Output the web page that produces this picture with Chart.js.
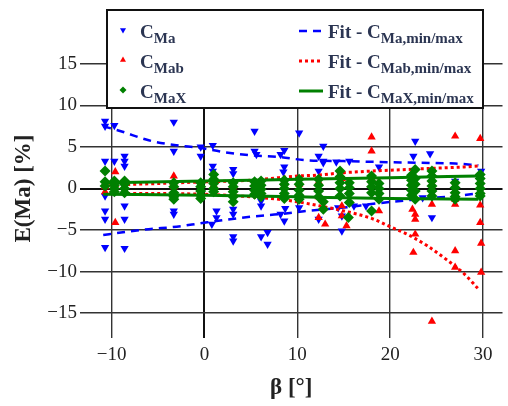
<!DOCTYPE html>
<html>
<head>
<meta charset="utf-8">
<script src="https://cdn.jsdelivr.net/npm/chart.js@4.4.1/dist/chart.umd.min.js"></script>
<style>
  html, body { margin: 0; padding: 0; background: #fff; }
  canvas { display: block; }
</style>
</head>
<body>
<canvas id="chart" width="508" height="406" style="width:508px;height:406px"></canvas>
<script>
// measured points [beta, error]
var cMa = [
  [-10.7, 8.1], [-10.7, 7.5], [-10.7, 3.3], [-10.7, -0.9], [-10.7, -2.7], [-10.7, -3.7], [-10.7, -7.1],
  [-9.7, 7.6], [-9.7, 3.3],
  [-8.6, 3.9], [-8.6, 3.3], [-8.6, 2.7], [-8.6, -2.1], [-8.6, -3.7], [-8.6, -7.2],
  [-3.3, 8.0], [-3.3, 4.5], [-3.3, -2.7], [-3.3, -3.1],
  [-0.4, 5.0], [-0.4, 3.9],
  [0.9, 5.2], [0.9, 2.7], [0.9, 2.1], [1.3, -2.7], [1.3, -3.5], [0.8, -4.3],
  [3.1, 2.3], [3.1, 1.8], [3.1, -2.5], [3.1, -3.1], [3.1, -5.8], [3.1, -6.3],
  [5.4, 6.9], [5.4, 4.5], [5.6, 4.1], [6.1, -1.5], [6.1, -2.1], [6.1, -5.8],
  [6.8, -5.3], [6.8, -6.7],
  [8.6, 4.6], [8.2, 4.1], [8.6, 2.6], [8.5, 2.0], [8.7, -2.4], [8.2, -3.1], [8.6, -3.9],
  [10.2, 6.7], [10.2, -2.3],
  [12.3, 3.9], [12.3, 2.1], [12.3, -3.7], [12.8, 5.1], [12.8, 3.3], [12.8, 3.1],
  [14.2, 3.2], [14.4, -2.3], [14.8, -3.3], [14.8, -5.1],
  [15.6, 3.3], [16.1, -2.1], [17.4, -2.1],
  [18.8, 2.6],
  [22.7, 5.7], [22.5, 3.9], [23.5, -1.1],
  [24.3, 4.2], [24.5, -3.5],
  [27.0, 0.9], [29.8, 2.1]
];
var cMab = [
  [-10.7, 0.2], [-10.7, -0.4],
  [-9.6, 2.0], [-9.6, 0.5], [-9.6, -4.1],
  [-8.6, 0.3], [-8.6, -0.3],
  [-3.3, 1.5], [-3.3, 0.2],
  [-0.4, 0.5], [-0.4, -0.5], [1.0, 0.4],
  [3.1, 0.2], [3.1, -0.6], [5.6, 0.3],
  [8.6, 0.6], [8.6, -0.8], [10.2, 0.5],
  [12.3, 0.8], [12.3, -1.0], [12.3, -3.5], [13.0, -4.3],
  [14.8, 1.2], [14.8, -2.1], [14.8, -3.3], [15.3, -4.5],
  [18.0, 6.2], [18.0, 4.5], [18.0, 1.2], [18.8, 0.8], [18.8, -2.7],
  [22.4, 1.5], [22.4, -2.5], [22.7, -3.1], [22.7, -3.7], [22.7, -5.5], [22.5, -7.7],
  [24.5, 1.0], [24.5, -1.9], [24.5, -16.0],
  [27.0, 6.3], [27.0, 0.4], [27.0, -1.3], [27.0, -1.9], [27.0, -7.5], [27.0, -9.5],
  [29.7, 6.0], [29.7, 0.2], [29.7, -2.0], [29.7, -4.1], [29.8, -6.6], [29.8, -10.1]
];
var cMaX = [
  [-10.7, 2.1], [-10.7, 0.8], [-10.7, 0.3],
  [-9.7, 0.9], [-9.7, 0.4], [-9.7, 0.0], [-9.7, -0.4],
  [-8.6, 0.9], [-8.6, 0.5], [-8.6, 0.0], [-8.6, -0.5],
  [-3.3, 0.7], [-3.3, 0.2], [-3.3, -0.5], [-3.3, -1.0], [-3.3, -1.3],
  [-0.4, 0.7], [-0.4, 0.2], [-0.4, -0.3], [-0.4, -0.8], [-0.4, -1.2],
  [1.0, 1.7], [1.0, 1.1], [1.0, 0.6], [1.0, 0.0], [1.0, -0.4],
  [3.1, 0.7], [3.1, 0.2], [3.1, -0.4], [3.1, -1.0], [3.1, -1.6],
  [5.4, 0.8], [5.4, 0.3], [5.4, -0.2], [5.4, -0.7],
  [6.1, 0.9], [6.1, 0.4], [6.1, -0.1], [6.1, -0.6], [6.1, -1.0],
  [8.6, 1.0], [8.6, 0.5], [8.6, 0.0], [8.6, -0.6], [8.6, -1.2],
  [10.2, 1.1], [10.2, 0.5], [10.2, -0.2], [10.2, -0.8], [10.2, -1.3],
  [12.3, 1.1], [12.3, 0.4], [12.3, -0.3], [12.3, -1.0], [12.8, -1.6], [12.8, -2.5],
  [14.6, 2.1], [14.6, 1.4], [14.6, 0.7], [14.6, 0.0], [14.6, -0.9],
  [15.6, 0.7], [15.6, 0.1], [15.6, -0.6], [15.6, -1.7], [15.5, -3.5],
  [18.0, 1.5], [18.0, 0.8], [18.0, 0.2], [18.0, -0.5], [18.0, -2.7],
  [18.8, 0.6], [18.8, 0.0], [18.8, -0.6], [18.8, -1.3],
  [22.3, 1.6], [22.3, 1.0], [22.3, 0.4], [22.3, -0.2], [22.3, -0.8],
  [22.7, 2.3], [22.7, 1.2], [22.7, 0.5], [22.7, -0.3], [22.7, -1.3],
  [24.5, 2.1], [24.5, 1.5], [24.5, 0.9], [24.5, 0.3], [24.5, -0.3], [24.5, -0.9],
  [27.0, 0.7], [27.0, 0.1], [27.0, -0.5], [27.0, -1.0], [27.0, -1.3],
  [29.7, 1.7], [29.7, 1.2], [29.7, 0.6], [29.7, 0.0], [29.7, -0.6], [29.7, -0.9]
];

// fit envelopes
var blueFitBeta = [-10.9, -9, -6, -3, -0.5, 2, 5, 8, 11, 15, 18.5, 23, 27, 29.5];
var blueUpper = [7.5, 6.9, 5.8, 5.2, 4.9, 4.4, 4.0, 3.8, 3.4, 3.3, 3.2, 3.1, 3.0, 2.8];
var blueLower = [-5.6, -5.3, -4.9, -4.6, -4.2, -3.8, -3.4, -3.1, -2.7, -2.3, -1.8, -1.3, -0.9, -0.6];
var redFitBeta = [-10.9, -5, 0, 5, 8, 10, 12, 15, 18, 20, 22, 24, 26, 28, 29.5];
var redUpper = [0.4, 0.6, 0.8, 1.0, 1.3, 1.5, 1.6, 1.9, 2.1, 2.2, 2.3, 2.4, 2.5, 2.6, 2.7];
var redLower = [-0.6, -0.6, -0.7, -1.0, -1.3, -1.6, -2.0, -2.7, -3.6, -4.6, -5.6, -6.9, -8.5, -10.3, -12.1];
var greenFitBeta = [-10.9, 0, 10, 20, 29.5];
var greenUpper = [0.7, 0.9, 1.1, 1.3, 1.5];
var greenLower = [-0.7, -0.8, -1.0, -1.2, -1.3];

var xTicks = [-10, 0, 10, 20, 30];
var yTicks = [-15, -10, -5, 0, 5, 10, 15];

function pts(list) {
  return list.map(function (p) { return { x: p[0], y: p[1] }; });
}
function curve(xs, ys) {
  return xs.map(function (x, i) { return { x: x, y: ys[i] }; });
}

var BLUE = "#0000ff", RED = "#ff0000", GREEN = "#008000";
var serif = "'Liberation Serif', 'Times New Roman', serif";

function fitLine(data, color, dash, width, order) {
  return {
    data: data, showLine: true, borderColor: color, borderWidth: width,
    borderDash: dash, pointRadius: 0, fill: false,
    cubicInterpolationMode: "monotone", order: order
  };
}

var legendRows = [
  { point: 0, line: 3, sub: "Ma" },
  { point: 1, line: 5, sub: "Mab" },
  { point: 2, line: 7, sub: "MaX" }
];

var boxLegend = {
  id: "boxLegend",
  afterDraw: function (chart) {
    var ctx = chart.ctx;
    ctx.save();
    ctx.fillStyle = "#fff";
    ctx.fillRect(107, 10, 376, 98);
    ctx.strokeStyle = "#111";
    ctx.lineWidth = 2;
    ctx.strokeRect(107, 10, 376, 98);

    legendRows.forEach(function (row, i) {
      var cy = 30 + i * 30;
      var pds = chart.data.datasets[row.point];
      ctx.fillStyle = pds.backgroundColor;
      ctx.strokeStyle = pds.backgroundColor;
      Chart.helpers.drawPoint(ctx, {
        pointStyle: pds.pointStyle, rotation: pds.rotation || 0,
        radius: 3.5, borderWidth: 0
      }, 123, cy);

      var lds = chart.data.datasets[row.line];
      ctx.beginPath();
      ctx.setLineDash(lds.borderDash);
      ctx.strokeStyle = lds.borderColor;
      ctx.lineWidth = lds.borderWidth;
      ctx.moveTo(299, cy + 1);
      ctx.lineTo(323, cy + 1);
      ctx.stroke();
      ctx.setLineDash([]);

      ctx.fillStyle = "#2b3552";
      ctx.textBaseline = "alphabetic";
      var base = cy + 8;
      ctx.font = "bold 19px " + serif;
      ctx.fillText("C", 140, base);
      var w = ctx.measureText("C").width;
      ctx.font = "bold 15px " + serif;
      ctx.fillText(row.sub, 140 + w, base + 5);

      ctx.font = "bold 19px " + serif;
      ctx.fillText("Fit - C", 328, base);
      w = ctx.measureText("Fit - C").width;
      ctx.font = "bold 15px " + serif;
      ctx.fillText(row.sub + ",min/max", 328 + w, base + 5);
    });
    ctx.restore();
  }
};

function gridColor(c) { return c.tick && c.tick.value === 0 ? "#111" : "#333"; }
function gridWidth(c) { return c.tick && c.tick.value === 0 ? 2 : 1.4; }

new Chart(document.getElementById("chart").getContext("2d"), {
  type: "scatter",
  data: {
    datasets: [
      { data: pts(cMa), pointStyle: "triangle", rotation: 180, radius: 4.8,
        backgroundColor: BLUE, borderWidth: 0, order: 6 },
      { data: pts(cMab), pointStyle: "triangle", radius: 4.8,
        backgroundColor: RED, borderWidth: 0, order: 4 },
      { data: pts(cMaX), pointStyle: "rectRot", radius: 5.5,
        backgroundColor: GREEN, borderWidth: 0, order: 1 },
      fitLine(curve(blueFitBeta, blueUpper), BLUE, [8, 6], 2.5, 5),
      fitLine(curve(blueFitBeta, blueLower), BLUE, [8, 6], 2.5, 5),
      fitLine(curve(redFitBeta, redUpper), RED, [3, 3], 3, 3),
      fitLine(curve(redFitBeta, redLower), RED, [3, 3], 3, 3),
      fitLine(curve(greenFitBeta, greenUpper), GREEN, [], 3, 2),
      fitLine(curve(greenFitBeta, greenLower), GREEN, [], 3, 2)
    ]
  },
  options: {
    responsive: false,
    devicePixelRatio: 1,
    animation: false,
    layout: { padding: { top: 39, left: 0, right: 0, bottom: 0 } },
    plugins: { legend: { display: false }, tooltip: { enabled: false } },
    scales: {
      x: {
        type: "linear", min: -13.4, max: 32.1,
        afterBuildTicks: function (s) { s.ticks = xTicks.map(function (v) { return { value: v }; }); },
        afterFit: function (s) { s.height = 68; },
        border: { display: false },
        grid: { color: gridColor, lineWidth: gridWidth, drawTicks: false },
        ticks: {
          padding: 6, color: "#222", font: { family: serif, size: 19 },
          callback: function (v) { return String(v).replace("-", "\u2212"); }
        },
        title: { display: true, text: "β [°]", color: "#222",
          font: { family: serif, size: 23, weight: "bold" }, padding: { top: 5 } }
      },
      y: {
        type: "linear", min: -18, max: 18,
        afterBuildTicks: function (s) { s.ticks = yTicks.map(function (v) { return { value: v }; }); },
        afterFit: function (s) { s.width = 80; },
        border: { display: false },
        grid: { color: gridColor, lineWidth: gridWidth, drawTicks: false },
        ticks: {
          padding: 3, color: "#222", font: { family: serif, size: 19 },
          callback: function (v) { return String(v).replace("-", "\u2212"); }
        },
        title: { display: true, text: "E(Ma) [%]", color: "#222",
          font: { family: serif, size: 23, weight: "bold" }, padding: { top: 10, bottom: 0 } }
      }
    }
  },
  plugins: [boxLegend]
});
</script>
</body>
</html>
